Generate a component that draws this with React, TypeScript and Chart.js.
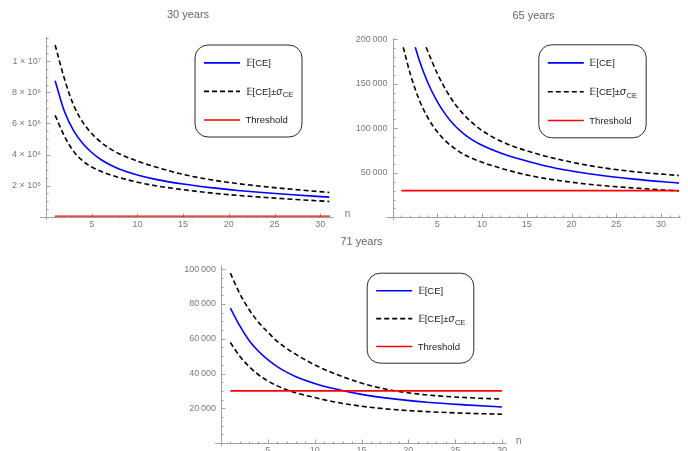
import React, { useEffect, useRef } from "react";
import { Chart, registerables } from "chart.js";

Chart.register(...registerables);

// ---------- data ----------
const THRESHOLD = 30000;

// 30 years
const N_30 = [1, 2, 3, 4, 5, 6, 7, 8, 10, 12, 15, 18, 21, 24, 27, 31];
const MEAN_30 = [8750000, 6800000, 5550000, 4720000, 4130000, 3680000, 3340000, 3070000, 2680000, 2400000, 2100000, 1870000, 1690000, 1540000, 1410000, 1260000];
const UPPER_30 = [11050000, 8900000, 7200000, 6100000, 5350000, 4800000, 4380000, 4050000, 3570000, 3200000, 2720000, 2380000, 2130000, 1930000, 1760000, 1560000];
const LOWER_30 = [6520000, 5200000, 4220000, 3600000, 3200000, 2920000, 2700000, 2520000, 2220000, 1990000, 1740000, 1530000, 1370000, 1240000, 1120000, 980000];
const THR_N_30 = [1, 31];
const Y_TICKS_30 = [2000000, 4000000, 6000000, 8000000, 10000000];
const Y_LABELS_30 = ["2 × 10⁶", "4 × 10⁶", "6 × 10⁶", "8 × 10⁶", "1 × 10⁷"];

// 65 years (curves enter the plot at its upper edge, 191 000)
const MEAN_N_65 = [2.55, 3, 4, 5, 6, 7, 8, 9, 10, 12, 14, 17, 20, 23, 27, 32];
const MEAN_65 = [191000, 176000, 150000, 130000, 114500, 102500, 93500, 86500, 81000, 72500, 66000, 58000, 52000, 47500, 43000, 38500];
const UPPER_N_65 = [3.75, 4, 5, 6, 7, 8, 9, 10, 12, 14, 17, 20, 23, 27, 32];
const UPPER_65 = [191000, 185000, 161500, 142500, 127000, 115000, 105500, 97500, 86000, 78000, 69000, 62000, 56500, 51300, 47000];
const LOWER_N_65 = [1.2, 2, 3, 4, 5, 6, 7, 8, 10, 12, 14, 17, 20, 23, 27, 32];
const LOWER_65 = [191000, 160500, 131500, 111000, 96000, 85000, 77000, 70500, 62000, 55500, 50000, 43800, 39500, 36100, 33000, 29700];
const THR_N_65 = [1, 32];
const Y_TICKS_65 = [50000, 100000, 150000, 200000];
const Y_LABELS_65 = ["50\u2009000", "100\u2009000", "150\u2009000", "200\u2009000"];

// 71 years
const N_71 = [1, 2, 3, 4, 5, 6, 7, 8, 10, 12, 15, 18, 22, 26, 30];
const MEAN_71 = [77600, 67500, 59000, 52800, 48000, 44000, 40800, 38200, 34300, 31400, 28000, 25700, 23500, 22000, 20800];
const UPPER_71 = [97700, 86000, 76800, 69500, 63800, 58500, 54500, 51000, 45000, 40200, 34500, 30600, 27700, 26200, 25300];
const LOWER_71 = [57800, 50000, 44000, 39300, 35700, 32900, 30700, 28900, 26200, 23800, 21200, 19500, 18100, 17200, 16600];
const THR_N_71 = [1, 30];
const Y_TICKS_71 = [20000, 40000, 60000, 80000, 100000];
const Y_LABELS_71 = ["20\u2009000", "40\u2009000", "60\u2009000", "80\u2009000", "100\u2009000"];

const X_TICKS = [5, 10, 15, 20, 25, 30];
const X_LABELS = ["5", "10", "15", "20", "25", "30"];

const TITLES = ["30 years", "65 years", "71 years"];
const LEGEND_LABELS = ["𝔼[CE]", "𝔼[CE]±", "Threshold"];

// ---------- style ----------
const FONT = "'Liberation Sans', Arial, sans-serif";
const AXIS_COLOR = "#a0a0a0";
const LABEL_COLOR = "#7a7a7a";
const TITLE_COLOR = "#666666";
const BLUE = "#0000ff";
const RED = "#ff0000";
const DASH = [5, 3];

const pts = (xs: number[], ys: number[]) => xs.map((x, i) => ({ x, y: ys[i] }));

const mmaPlugin = {
  id: "mma",
  beforeDatasetsDraw(chart: any, _args: any, o: any) {
    const { ctx, chartArea: a } = chart;
    const xs = chart.scales.x;
    const ys = chart.scales.y;
    const xAxisY = Math.round(ys.getPixelForValue(0)) + 0.5;
    const yAxisX = Math.round(xs.getPixelForValue(0)) + 0.5;
    ctx.save();
    ctx.strokeStyle = AXIS_COLOR;
    ctx.lineWidth = 1;
    ctx.beginPath();
    ctx.moveTo(a.left - 6, xAxisY);
    ctx.lineTo(a.right, xAxisY);
    ctx.moveTo(yAxisX, a.top);
    ctx.lineTo(yAxisX, a.bottom + 3);
    const nx = Math.floor(xs.max / o.xMinor + 1e-9);
    for (let i = 1; i <= nx; i++) {
      const px = Math.round(xs.getPixelForValue(i * o.xMinor)) + 0.5;
      const len = i % o.xEvery === 0 ? 4 : 2;
      ctx.moveTo(px, xAxisY);
      ctx.lineTo(px, xAxisY - len);
    }
    const ny = Math.floor(ys.max / o.yMinor + 1e-9);
    for (let i = 1; i <= ny; i++) {
      const py = Math.round(ys.getPixelForValue(i * o.yMinor)) + 0.5;
      const len = i % o.yEvery === 0 ? 4 : 2;
      ctx.moveTo(yAxisX, py);
      ctx.lineTo(yAxisX + len, py);
    }
    ctx.stroke();
    ctx.restore();
  },
  afterDraw(chart: any, _args: any, o: any) {
    const { ctx, chartArea: a } = chart;
    ctx.save();
    // title
    ctx.font = `11px ${FONT}`;
    ctx.fillStyle = TITLE_COLOR;
    ctx.textAlign = "center";
    ctx.textBaseline = "middle";
    ctx.fillText(o.title, o.titleX, o.titleY);
    // axis label n
    ctx.font = `10px ${FONT}`;
    ctx.fillStyle = LABEL_COLOR;
    ctx.fillText("n", a.right + o.nDx, chart.scales.y.getPixelForValue(0) - 2);
    // legend
    const L = o.legend;
    ctx.beginPath();
    ctx.roundRect(L.x + 0.5, L.y + 0.5, L.w, L.h, 13);
    ctx.fillStyle = "#ffffff";
    ctx.fill();
    ctx.strokeStyle = "#2b2b2b";
    ctx.lineWidth = 1;
    ctx.stroke();
    const rows = [0.2, 0.51, 0.82].map((f) => L.y + L.h * f);
    const x1 = L.x + 9.5;
    const x2 = L.x + 45.5;
    const tx = L.x + 51;
    const styles = [
      { c: BLUE, d: [] as number[] },
      { c: "#000000", d: DASH },
      { c: RED, d: [] as number[] },
    ];
    styles.forEach((s, i) => {
      ctx.beginPath();
      ctx.setLineDash(s.d);
      ctx.strokeStyle = s.c;
      ctx.lineWidth = 1.6;
      ctx.moveTo(x1, rows[i]);
      ctx.lineTo(x2, rows[i]);
      ctx.stroke();
    });
    ctx.setLineDash([]);
    ctx.fillStyle = "#1a1a1a";
    ctx.textAlign = "left";
    ctx.textBaseline = "middle";
    ctx.font = `9.5px ${FONT}`;
    ctx.fillText(LEGEND_LABELS[0], tx, rows[0] + 0.5);
    ctx.fillText(LEGEND_LABELS[1], tx, rows[1] + 0.5);
    let w = ctx.measureText(LEGEND_LABELS[1]).width;
    ctx.font = `italic 10px ${FONT}`;
    ctx.fillText("σ", tx + w, rows[1] + 0.5);
    w += ctx.measureText("σ").width;
    ctx.font = `7.5px ${FONT}`;
    ctx.fillText("CE", tx + w + 0.5, rows[1] + 4);
    ctx.font = `9.5px ${FONT}`;
    ctx.fillText(LEGEND_LABELS[2], tx, rows[2] + 0.5);
    ctx.restore();
  },
};

type PanelCfg = {
  left: number;
  top: number;
  w: number;
  h: number;
  padding: { left: number; top: number; right: number; bottom: number };
  yWidth: number;
  xMax: number;
  yMax: number;
  yTicks: number[];
  yLabels: string[];
  yMinor: number;
  yEvery: number;
  datasets: any[];
  title: string;
  titleX: number;
  titleY: number;
  legend: { x: number; y: number; w: number; h: number };
  nDx: number;
};

const line = (label: string, data: any[], color: string, dash: number[] = []) => ({
  label,
  data,
  borderColor: color,
  borderWidth: 1.6,
  borderDash: dash,
  pointRadius: 0,
  fill: false,
  cubicInterpolationMode: "monotone",
});

const X_AXIS_H = 12;

const PANELS: PanelCfg[] = [
  {
    left: 0,
    top: 0,
    w: 360,
    h: 232,
    padding: { left: 0, top: 37, right: 27, bottom: 232 - 216.7 - X_AXIS_H },
    yWidth: 46,
    xMax: 31.4,
    yMax: 11560000,
    yTicks: Y_TICKS_30,
    yLabels: Y_LABELS_30,
    yMinor: 500000,
    yEvery: 4,
    datasets: [
      line("Threshold", pts(THR_N_30, [THRESHOLD, THRESHOLD]), RED),
      line("E[CE]", pts(N_30, MEAN_30), BLUE),
      line("E[CE]+σ", pts(N_30, UPPER_30), "#000000", DASH),
      line("E[CE]-σ", pts(N_30, LOWER_30), "#000000", DASH),
    ],
    title: TITLES[0],
    titleX: 188,
    titleY: 14.7,
    legend: { x: 194.5, y: 44.5, w: 107, h: 92 },
    nDx: 14.5,
  },
  {
    left: 344,
    top: 0,
    w: 344,
    h: 232,
    padding: { left: 0, top: 38.3, right: 7.3, bottom: 232 - 217.4 - X_AXIS_H },
    yWidth: 48.5,
    xMax: 32.2,
    yMax: 201000,
    yTicks: Y_TICKS_65,
    yLabels: Y_LABELS_65,
    yMinor: 10000,
    yEvery: 5,
    datasets: [
      line("Threshold", pts(THR_N_65, [THRESHOLD, THRESHOLD]), RED),
      line("E[CE]", pts(MEAN_N_65, MEAN_65), BLUE),
      line("E[CE]+σ", pts(UPPER_N_65, UPPER_65), "#000000", DASH),
      line("E[CE]-σ", pts(LOWER_N_65, LOWER_65), "#000000", DASH),
    ],
    title: TITLES[1],
    titleX: 189.5,
    titleY: 16.2,
    legend: { x: 194.3, y: 44.3, w: 107.4, h: 93 },
    nDx: 14.5,
  },
  {
    left: 170,
    top: 228,
    w: 360,
    h: 235,
    padding: { left: 0, top: 37.7, right: 23.3, bottom: 235 - 215.1 - X_AXIS_H },
    yWidth: 51,
    xMax: 30.5,
    yMax: 102000,
    yTicks: Y_TICKS_71,
    yLabels: Y_LABELS_71,
    yMinor: 5000,
    yEvery: 4,
    datasets: [
      line("Threshold", pts(THR_N_71, [THRESHOLD, THRESHOLD]), RED),
      line("E[CE]", pts(N_71, MEAN_71), BLUE),
      line("E[CE]+σ", pts(N_71, UPPER_71), "#000000", DASH),
      line("E[CE]-σ", pts(N_71, LOWER_71), "#000000", DASH),
    ],
    title: TITLES[2],
    titleX: 191.5,
    titleY: 13.7,
    legend: { x: 196.7, y: 44.7, w: 106.6, h: 90 },
    nDx: 12,
  },
];

function Panel({ cfg }: { cfg: PanelCfg }) {
  const ref = useRef<HTMLCanvasElement>(null);
  useEffect(() => {
    const chart = new Chart(ref.current as HTMLCanvasElement, {
      type: "line",
      data: { datasets: cfg.datasets },
      plugins: [mmaPlugin as any],
      options: {
        animation: false,
        responsive: false,
        layout: { padding: cfg.padding },
        plugins: {
          legend: { display: false },
          title: { display: false },
          tooltip: { enabled: false },
          mma: {
            xMinor: 1,
            xEvery: 5,
            yMinor: cfg.yMinor,
            yEvery: cfg.yEvery,
            title: cfg.title,
            titleX: cfg.titleX,
            titleY: cfg.titleY,
            legend: cfg.legend,
            nDx: cfg.nDx,
          },
        } as any,
        scales: {
          x: {
            type: "linear",
            min: 0,
            max: cfg.xMax,
            border: { display: false },
            grid: { display: false, drawTicks: false },
            afterBuildTicks: (s: any) => {
              s.ticks = X_TICKS.map((v) => ({ value: v }));
            },
            afterFit: (s: any) => {
              s.height = X_AXIS_H;
            },
            ticks: {
              autoSkip: false,
              maxRotation: 0,
              padding: 2,
              color: LABEL_COLOR,
              font: { family: FONT, size: 9 },
              callback: (_v: any, i: number) => X_LABELS[i],
            },
          },
          y: {
            type: "linear",
            min: 0,
            max: cfg.yMax,
            border: { display: false },
            grid: { display: false, drawTicks: false },
            afterBuildTicks: (s: any) => {
              s.ticks = cfg.yTicks.map((v) => ({ value: v }));
            },
            afterFit: (s: any) => {
              s.width = cfg.yWidth;
            },
            ticks: {
              autoSkip: false,
              padding: 5,
              color: LABEL_COLOR,
              font: { family: FONT, size: 9 },
              callback: (_v: any, i: number) => cfg.yLabels[i],
            },
          },
        },
      } as any,
    });
    return () => chart.destroy();
  }, [cfg]);
  return (
    <canvas
      ref={ref}
      width={cfg.w}
      height={cfg.h}
      style={{ position: "absolute", left: cfg.left, top: cfg.top, width: cfg.w, height: cfg.h }}
    />
  );
}

export default function App() {
  return (
    <div
      style={{
        position: "absolute",
        left: 0,
        top: 0,
        width: 688,
        height: 451,
        overflow: "hidden",
        background: "#ffffff",
      }}
    >
      {PANELS.map((p) => (
        <Panel key={p.title} cfg={p} />
      ))}
    </div>
  );
}
